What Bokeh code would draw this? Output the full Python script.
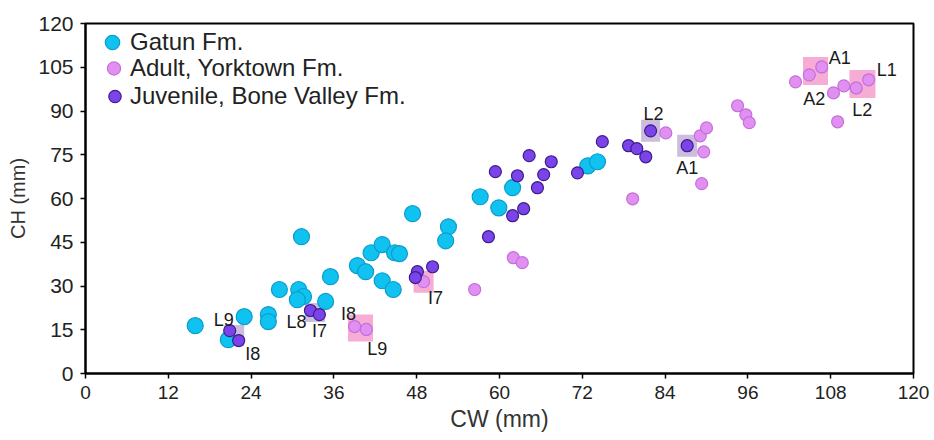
from bokeh.plotting import figure
from bokeh.models import FixedTicker, Legend, LegendItem, ColumnDataSource
from bokeh.embed import file_html
from bokeh.resources import INLINE
from bokeh.core.properties import value

# ---------------- data ----------------
gatun_cw = [15.9, 20.7, 23.0, 26.5, 26.5, 28.1, 30.9, 31.6, 30.7, 31.3, 34.8, 35.5, 39.4, 40.6,
            41.4, 43.0, 44.8, 45.5, 43.0, 44.6, 47.4, 52.6, 52.2, 57.2, 59.9, 61.9, 72.8, 74.2]
gatun_ch = [16.4, 11.6, 19.5, 20.2, 17.8, 28.8, 28.8, 26.4, 25.3, 46.9, 24.7, 33.2, 37.0, 34.9,
            41.4, 44.2, 41.4, 41.1, 31.8, 28.8, 54.8, 50.3, 45.5, 60.6, 56.8, 63.7, 71.2, 72.6]

adult_cw = [39.0, 40.7, 49.0, 56.4, 62.0, 63.3, 79.3, 84.1, 89.1, 90.0, 89.6, 89.3, 94.5, 95.7,
            96.2, 102.9, 104.9, 106.7, 108.4, 109.9, 111.7, 113.5, 109.0]
adult_ch = [16.1, 15.1, 31.5, 28.8, 39.7, 38.0, 59.9, 82.5, 81.5, 84.2, 76.0, 65.1, 91.8, 88.7,
            86.0, 100.0, 102.4, 105.1, 96.2, 98.6, 97.9, 100.7, 86.3]

juv_cw = [20.9, 22.2, 32.6, 33.9, 48.1, 47.8, 50.3, 58.4, 61.9, 63.5, 65.5, 66.4, 62.6, 59.4,
          64.3, 67.5, 71.3, 74.9, 78.7, 79.9, 81.2, 81.9, 87.2]
juv_ch = [14.7, 11.3, 21.6, 20.2, 34.9, 32.9, 36.6, 46.9, 54.1, 56.5, 63.7, 68.2, 67.8, 69.2,
          74.7, 72.6, 68.8, 79.5, 78.1, 77.1, 74.3, 83.2, 78.1]

series_names = ["Gatun Fm.", "Adult, Yorktown Fm.", "Juvenile, Bone Valley Fm."]
x_ticks = [0, 12, 24, 36, 48, 60, 72, 84, 96, 108, 120]
y_ticks = [0, 15, 30, 45, 60, 75, 90, 105, 120]

# highlighted specimens (indices into each series)
juv_boxes = [[0, 1], [2, 3], [21], [22]]
adult_boxes = [[0, 1], [2], [16, 17], [20, 21]]
# specimen labels: (text, index)
juv_labels = [("L9", 0), ("I8", 1), ("L8", 2), ("I7", 3), ("L2", 21), ("A1", 22)]
adult_labels = [("I8", 0), ("L9", 1), ("I7", 2), ("A2", 16), ("A1", 17), ("L2", 20), ("L1", 21)]

# ---------------- styles ----------------
juv_box_sizes = [(20, 21), (20, 19), (19, 22), (20, 22)]
adult_box_sizes = [(25, 27), (20, 22), (25, 28), (26, 28)]
juv_label_off = [(-6, -11), (14, 13), (-14, 11), (0, 16), (3, -17), (0, 22)]
adult_label_off = [(-6, -13), (11, 20), (12, 16), (5, 24), (18, -9), (6, 22), (18, -10)]

FONT = "Liberation Sans"

p = figure(width=934, height=440, output_backend="svg", toolbar_location=None,
           x_range=(0, 120), y_range=(0, 120),
           min_border_left=85, min_border_right=21, min_border_top=23, min_border_bottom=67)
p.background_fill_color = "white"
p.border_fill_color = "white"
p.grid.visible = False
p.outline_line_color = "black"
p.outline_line_width = 2

for ax, ticks in ((p.xaxis[0], x_ticks), (p.yaxis[0], y_ticks)):
    ax.ticker = FixedTicker(ticks=ticks)
    ax.axis_line_width = 2
    ax.axis_line_color = "black"
    ax.major_tick_line_color = "black"
    ax.major_tick_line_width = 1.5
    ax.major_tick_out = 5
    ax.major_tick_in = 0
    ax.minor_tick_line_color = None
    ax.major_label_text_font = FONT
    ax.major_label_text_color = "#222222"
    ax.axis_label_text_font = FONT
    ax.axis_label_text_font_style = "normal"
    ax.axis_label_text_color = "#333333"

p.xaxis[0].axis_label = "CW (mm)"
p.yaxis[0].axis_label = "CH (mm)"
p.xaxis[0].major_label_text_font_size = "19px"
p.yaxis[0].major_label_text_font_size = "21px"
p.xaxis[0].axis_label_text_font_size = "23px"
p.yaxis[0].axis_label_text_font_size = "20px"
p.xaxis[0].major_label_standoff = 7
p.yaxis[0].major_label_standoff = 7
p.xaxis[0].axis_label_standoff = 4
p.yaxis[0].axis_label_standoff = 6


def boxes(cw, ch, groups, sizes):
    xs = [sum(cw[i] for i in g) / len(g) for g in groups]
    ys = [sum(ch[i] for i in g) / len(g) for g in groups]
    return dict(x=xs, y=ys, w=[s[0] for s in sizes], h=[s[1] for s in sizes])


jb = ColumnDataSource(boxes(juv_cw, juv_ch, juv_boxes, juv_box_sizes))
ab = ColumnDataSource(boxes(adult_cw, adult_ch, adult_boxes, adult_box_sizes))
p.rect("x", "y", width="w", height="h", width_units="screen", height_units="screen",
       source=jb, fill_color="#c4b2d6", fill_alpha=0.85, line_color=None)
p.rect("x", "y", width="w", height="h", width_units="screen", height_units="screen",
       source=ab, fill_color="#f5a3cf", fill_alpha=0.9, line_color=None)

r_g = p.scatter(gatun_cw, gatun_ch, size=16, fill_color="#0fc2f0", line_color="#0b9ccb",
                line_width=1.2)
r_a = p.scatter(adult_cw, adult_ch, size=12, fill_color="#e190f2", line_color="#c46fdb",
                line_width=1.2)
r_j = p.scatter(juv_cw, juv_ch, size=12, fill_color="#7a44e8", line_color="#3e1c8e",
                line_width=1.2)


def labels(cw, ch, labs, offs):
    return dict(x=[cw[i] for _, i in labs], y=[ch[i] for _, i in labs],
                t=[t for t, _ in labs], dx=[o[0] for o in offs], dy=[o[1] for o in offs])


for src in (labels(juv_cw, juv_ch, juv_labels, juv_label_off),
            labels(adult_cw, adult_ch, adult_labels, adult_label_off)):
    p.text("x", "y", text="t", x_offset="dx", y_offset="dy", source=ColumnDataSource(src),
           text_font=value(FONT), text_font_size="18px", text_color="#1a1a1a",
           text_align="center", text_baseline="middle")

# one legend row per series, so each marker can keep its own size
FRAME_H = 440 - 23 - 67
TEXT_X = 45                       # where the label text starts, px from frame left
row_centers = [19, 45, 73]        # px below frame top
glyph_widths = [36, 33, 31]       # legend marker size = 0.4 * glyph width
for name, rend, cy, gw in zip(series_names, (r_g, r_a, r_j), row_centers, glyph_widths):
    lg = Legend(items=[LegendItem(label=name, renderers=[rend])],
                location=(TEXT_X - gw, FRAME_H - cy - 20), orientation="vertical",
                glyph_width=gw, glyph_height=40, label_height=40, spacing=0,
                label_standoff=0, padding=0, margin=0,
                border_line_color=None, background_fill_alpha=0,
                label_text_font=FONT, label_text_font_size="24px", label_text_color="#222222")
    p.add_layout(lg)

open("out.html", "w").write(file_html(p, INLINE))
